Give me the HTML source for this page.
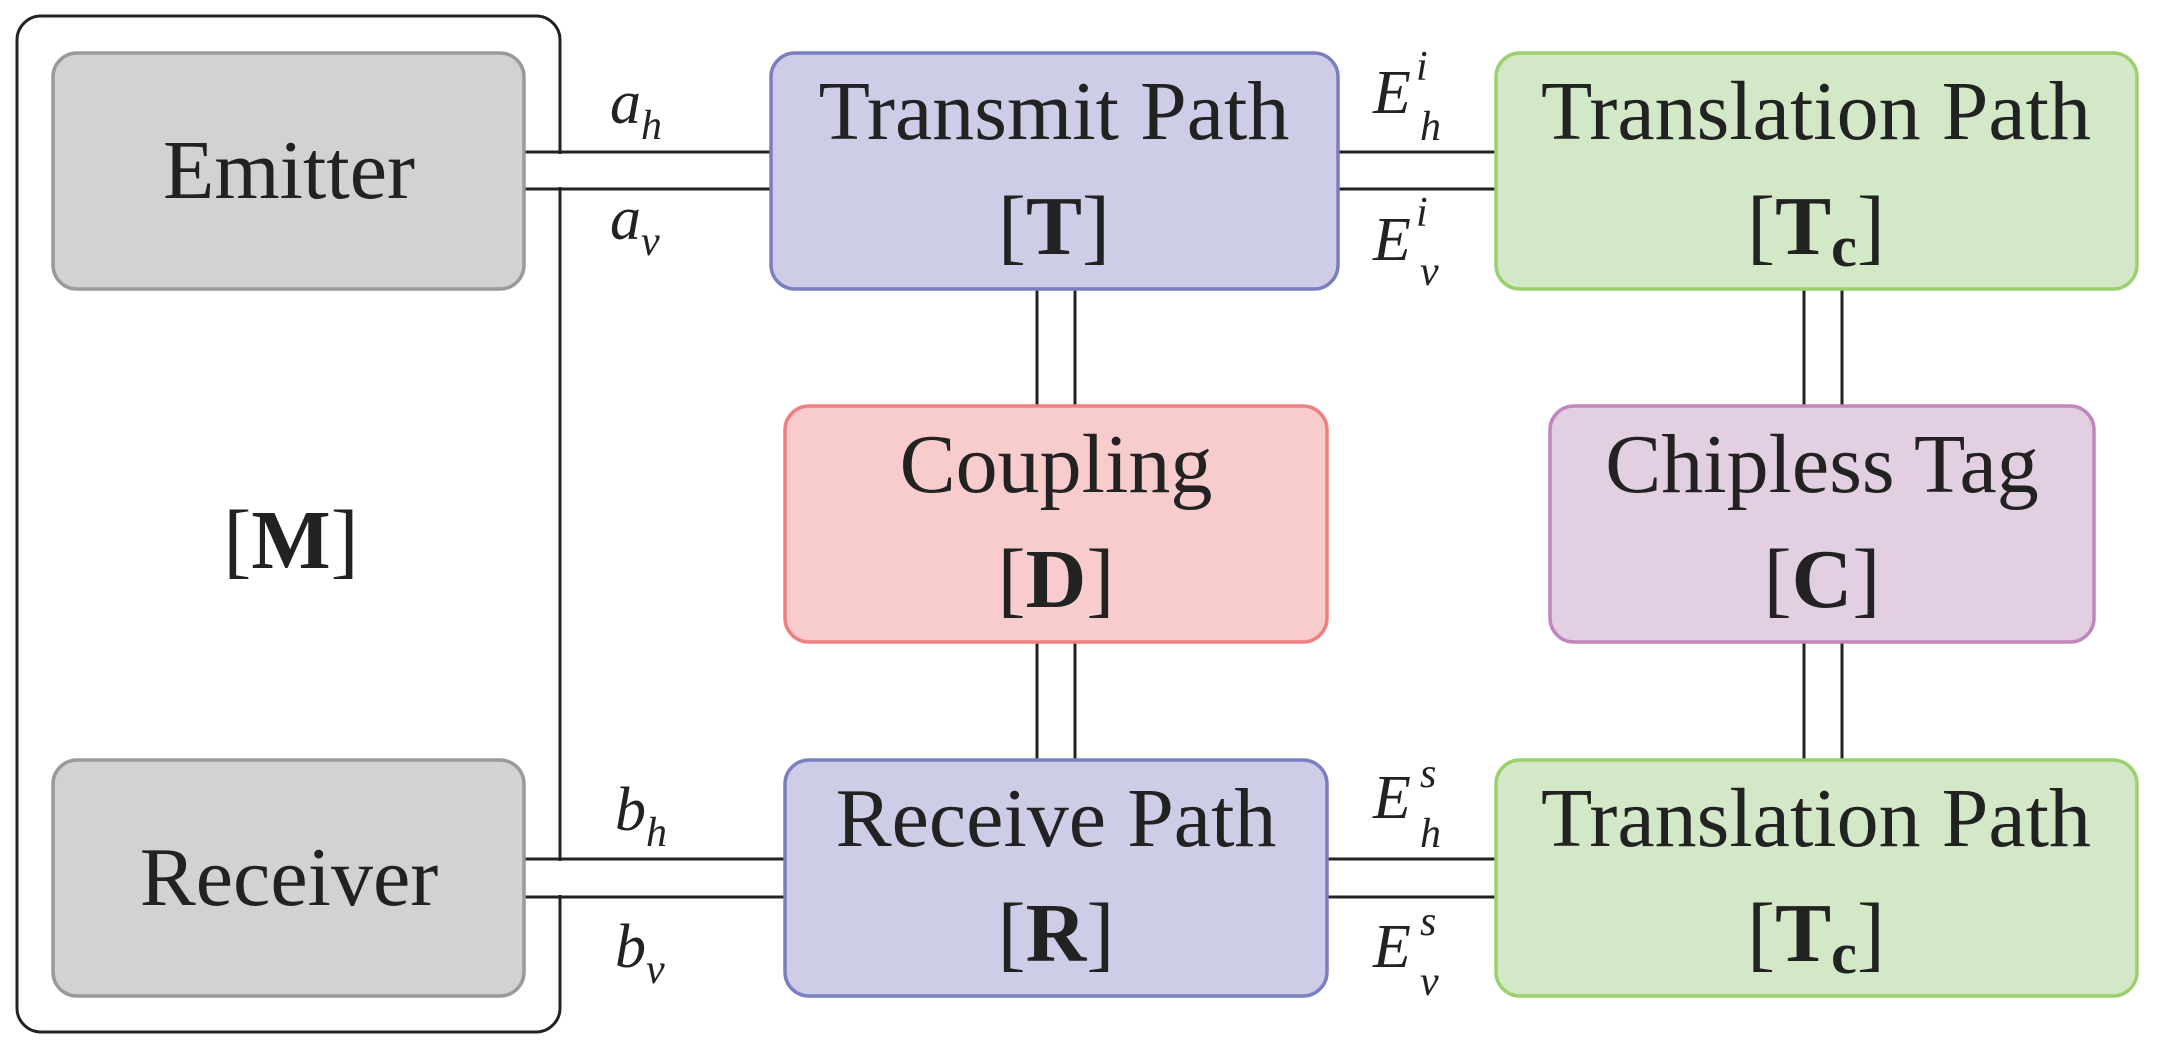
<!DOCTYPE html>
<html><head><meta charset="utf-8"><style>
html,body{margin:0;padding:0;background:#fff;}
svg{display:block;}
text{font-family:"Liberation Serif",serif;fill:#222;}
.t{font-size:84px;text-anchor:middle;}
.l{font-size:62px;font-style:italic;}
.s{font-size:42px;font-style:italic;}
</style></head><body>
<svg width="2174" height="1044" viewBox="0 0 2174 1044" xmlns="http://www.w3.org/2000/svg">
<!-- outer box -->
<rect x="17" y="16" width="543" height="1016" rx="24" fill="none" stroke="#222" stroke-width="3"/>
<!-- connector lines -->
<g stroke="#222" stroke-width="3">
<line x1="524" y1="152" x2="771" y2="152"/><line x1="524" y1="189" x2="771" y2="189"/>
<line x1="524" y1="859" x2="785" y2="859"/><line x1="524" y1="897" x2="785" y2="897"/>
<line x1="1338" y1="152" x2="1496" y2="152"/><line x1="1338" y1="189" x2="1496" y2="189"/>
<line x1="1327" y1="859" x2="1496" y2="859"/><line x1="1327" y1="897" x2="1496" y2="897"/>
<line x1="1037" y1="288" x2="1037" y2="406"/><line x1="1075" y1="288" x2="1075" y2="406"/>
<line x1="1037" y1="642" x2="1037" y2="760"/><line x1="1075" y1="642" x2="1075" y2="760"/>
<line x1="1804" y1="288" x2="1804" y2="406"/><line x1="1842" y1="288" x2="1842" y2="406"/>
<line x1="1804" y1="642" x2="1804" y2="760"/><line x1="1842" y1="642" x2="1842" y2="760"/>
</g>
<rect x="555" y="154" width="10" height="33" fill="#fff"/>
<rect x="555" y="861" width="10" height="34" fill="#fff"/>
<!-- boxes -->
<g stroke-width="3.5">
<rect x="53" y="53" width="471" height="236" rx="24" fill="#d1d2d4" stroke="#999a9c"/>
<rect x="53" y="760" width="471" height="236" rx="24" fill="#d1d2d4" stroke="#999a9c"/>
<rect x="771" y="53" width="567" height="236" rx="24" fill="#cecde8" stroke="#7a7fbf"/>
<rect x="785" y="760" width="542" height="236" rx="24" fill="#cecde8" stroke="#7a7fbf"/>
<rect x="785" y="406" width="542" height="236" rx="24" fill="#f8cbcd" stroke="#f08080"/>
<rect x="1550" y="406" width="544" height="236" rx="24" fill="#e3cfe2" stroke="#c285bd"/>
<rect x="1496" y="53" width="641" height="236" rx="24" fill="#d2e8c7" stroke="#9ccf6e"/>
<rect x="1496" y="760" width="641" height="236" rx="24" fill="#d2e8c7" stroke="#9ccf6e"/>
</g>
<!-- texts -->
<text class="t" x="289" y="198">Emitter</text>
<text class="t" x="289" y="905">Receiver</text>
<text class="t" x="291" y="568">[<tspan font-weight="bold">M</tspan>]</text>
<text class="t" x="1054" y="139">Transmit Path</text>
<text class="t" x="1054" y="254">[<tspan font-weight="bold">T</tspan>]</text>
<text class="t" x="1056" y="492">Coupling</text>
<text class="t" x="1056" y="607">[<tspan font-weight="bold">D</tspan>]</text>
<text class="t" x="1056" y="846">Receive Path</text>
<text class="t" x="1056" y="961">[<tspan font-weight="bold">R</tspan>]</text>
<text class="t" x="1822" y="492">Chipless Tag</text>
<text class="t" x="1822" y="607">[<tspan font-weight="bold">C</tspan>]</text>
<text class="t" x="1816" y="139">Translation Path</text>
<text class="t" x="1816" y="254">[<tspan font-weight="bold">T<tspan font-size="58" dy="12">c</tspan></tspan><tspan dy="-12">]</tspan></text>
<text class="t" x="1816" y="846">Translation Path</text>
<text class="t" x="1816" y="961">[<tspan font-weight="bold">T<tspan font-size="58" dy="12">c</tspan></tspan><tspan dy="-12">]</tspan></text>
<!-- labels -->
<text class="l" x="610" y="123">a<tspan class="s" font-size="42" dy="16">h</tspan></text>
<text class="l" x="610" y="239">a<tspan font-size="42" dy="16">v</tspan></text>
<text class="l" x="615" y="830">b<tspan font-size="42" dy="16">h</tspan></text>
<text class="l" x="615" y="967">b<tspan font-size="42" dy="16">v</tspan></text>
<text class="l" x="1373" y="113">E</text><text class="s" x="1416" y="80">i</text><text class="s" x="1420" y="140">h</text>
<text class="l" x="1373" y="260">E</text><text class="s" x="1416" y="226">i</text><text class="s" x="1420" y="285">v</text>
<text class="l" x="1373" y="818">E</text><text class="s" x="1420" y="787">s</text><text class="s" x="1420" y="847">h</text>
<text class="l" x="1373" y="967">E</text><text class="s" x="1420" y="935">s</text><text class="s" x="1420" y="995">v</text>
</svg>
</body></html>
